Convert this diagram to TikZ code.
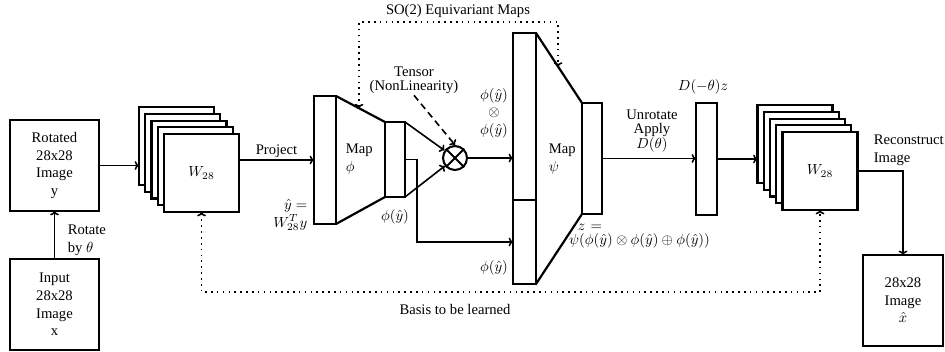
\documentclass[tikz,border=0pt]{standalone}
\usepackage{fontspec}
\setmainfont{Liberation Serif}
\usetikzlibrary{positioning, arrows.meta, calc}
\tikzset{
  imgbox/.style    = {rectangle, draw, line width=1.5pt, fill=white, align=center, inner sep=0pt,
                      outer sep=0pt, minimum width=2.136cm, minimum height=2.184cm},
  sheet/.style     = {rectangle, draw, line width=1.5pt, fill=white, inner sep=0pt, outer sep=0pt,
                      minimum width=1.8cm, minimum height=1.872cm},
  slab/.style      = {rectangle, draw, line width=1.5pt, fill=white, inner sep=0pt, outer sep=0pt},
  tensorop/.style  = {circle, draw, line width=1.4pt, fill=white, inner sep=0pt, minimum size=0.576cm},
  lbl/.style       = {align=center, inner sep=1pt},
  tightlbl/.style  = {lbl, font=\fontsize{10}{9.8}\selectfont},
  rim/.style       = {line width=1.5pt},
  link/.style      = {line width=1.1pt, -{To[length=3pt,width=6pt]}},
  hint/.style      = {line width=1.1pt, dash pattern=on 4.5pt off 3pt, -{To[length=3pt,width=6pt]}},
  basislink/.style = {line width=1.1pt, dash pattern=on 1.1pt off 2.9pt,
                      {To[length=3pt,width=6pt]}-{To[length=3pt,width=6pt]}},
}

\begin{document}
\begin{tikzpicture}[x=0.024cm, y=-0.024cm]
\useasboundingbox (0,0) rectangle (945,352);

% =============== INPUT IMAGES ===============
\node (inp) [imgbox] at (54.5,304.5) {Input\\28x28\\Image\\x};
\node (rot) [imgbox] at (54.5,165.5) {Rotated\\28x28\\Image\\y};
\draw[link] (inp.north) -- (rot.south);
\node (rotlbl) [lbl, anchor=west, align=left] at (66,240) {Rotate\\by $\theta$};

% =============== LEFT BASIS STACK ===============
\foreach \k in {4,3,2,1}
  \node (L\k) [sheet] at ({201.5-6.25*\k},{173-6.7*\k}) {};
\node (L0) [sheet] at (201.5,173) {$W_{28}$};
\draw[link] (rot.east) -- (rot.east -| L4.west);

% =============== MAP PHI ===============
\node (phiin)  [slab, minimum width=0.528cm, minimum height=3.072cm] at (325,160) {};
\node (phiout) [slab, minimum width=0.48cm,  minimum height=1.8cm]   at (395,159.5) {};
\draw[rim] (phiin.north east) -- (phiout.north west) (phiin.south east) -- (phiout.south west);
\node (phimap) [lbl, anchor=west, align=left] at (344,159) {Map\\$\phi$};
\draw[link] (phiin.west -| L0.east) -- node[lbl, above] {Project} (phiin.west);
\node (projlbl) [lbl, anchor=east, align=right] at (309,215) {$\hat{y} =$\\$W_{28}^T y$};
\node (philbl) [lbl] at (395,217) {$\phi(\hat{y})$};

% =============== TENSOR PRODUCT ===============
\node (tp) [tensorop] at (455,158) {};
\draw[line width=1.4pt] (tp.north west) -- (tp.south east) (tp.north east) -- (tp.south west);
\draw[link] (phiout.north east) -- (tp);
\draw[link] (phiout.south east) -- (tp);
\node (tensor) [tightlbl] at (414,80) {Tensor\\(NonLinearity)};
\draw[hint] (tensor.south) -- (tp.north);

% =============== MAP PSI ===============
\node (psitop) [slab, minimum width=0.552cm, minimum height=4.008cm] at (524.5,116.5) {};
\node (psibot) [slab, minimum width=0.552cm, minimum height=2.016cm] at (524.5,242) {};
\node (psiout) [slab, minimum width=0.48cm,  minimum height=2.664cm] at (592,158.5) {};
\draw[rim] (psitop.north east) -- (psiout.north west) (psibot.south east) -- (psiout.south west);
\node (psimap) [lbl, anchor=west, align=left] at (547,159) {Map\\$\psi$};
\node (tplbl)  [lbl] at (494,113) {$\phi(\hat{y})$\\$\otimes$\\$\phi(\hat{y})$};
\node (sumlbl) [lbl] at (494,268) {$\phi(\hat{y})$};
\node (zlbl)   [tightlbl, text width=1cm] at (590,236)
  {$z =$\\\mbox{$\psi(\phi(\hat{y}) \otimes \phi(\hat{y}) \oplus \phi(\hat{y}))$}};
\draw[link] (tp.east) -- (tp.east -| psitop.west);
\draw[link] (phiout.east) -- ++(12,0) |- (psibot.west);

% =============== UNROTATE ===============
\node (dmap) [slab, minimum width=0.504cm, minimum height=2.688cm] at (706.5,159) {};
\node (dlbl) [lbl] at (703,87) {$D(-\theta)z$};
\draw[link] (psiout.east) -- (psiout.east -| dmap.west);
\node (unrot) [tightlbl] at (652,131) {Unrotate\\Apply\\$D(\theta)$};

% =============== RIGHT BASIS STACK ===============
\foreach \k in {4,3,2,1}
  \node (R\k) [sheet] at ({820-6.25*\k},{171-6.7*\k}) {};
\node (R0) [sheet] at (820,171) {$W_{28}$};
\draw[link] (dmap.east) -- (dmap.east -| R4.west);

% =============== OUTPUT ===============
\node (out) [imgbox, minimum width=1.92cm] at (903,300.5) {28x28\\Image\\$\hat{x}$};
\draw[link] (R0.east) -| (out.north);
\node (reclbl) [lbl, anchor=west, align=left] at (872,150) {Reconstruct\\Image};

% =============== SHARED / EQUIVARIANT LINKS ===============
\coordinate (basis) at (510,292);
\draw[basislink] (L0.south) |- (basis) -| (R0.south);
\node (basislbl) [lbl] at (455,309) {Basis to be learned};

\coordinate (so2a) at ($(phiin.north east)!0.47!(phiout.north west)$);
\coordinate (so2b) at ($(psitop.north east)!0.48!(psiout.north west)$);
\coordinate (so2) at (458,22);
\draw[basislink] (so2a) |- (so2) -| (so2b);
\node (so2lbl) [lbl] at (458,11) {SO(2) Equivariant Maps};

\end{tikzpicture}
\end{document}
